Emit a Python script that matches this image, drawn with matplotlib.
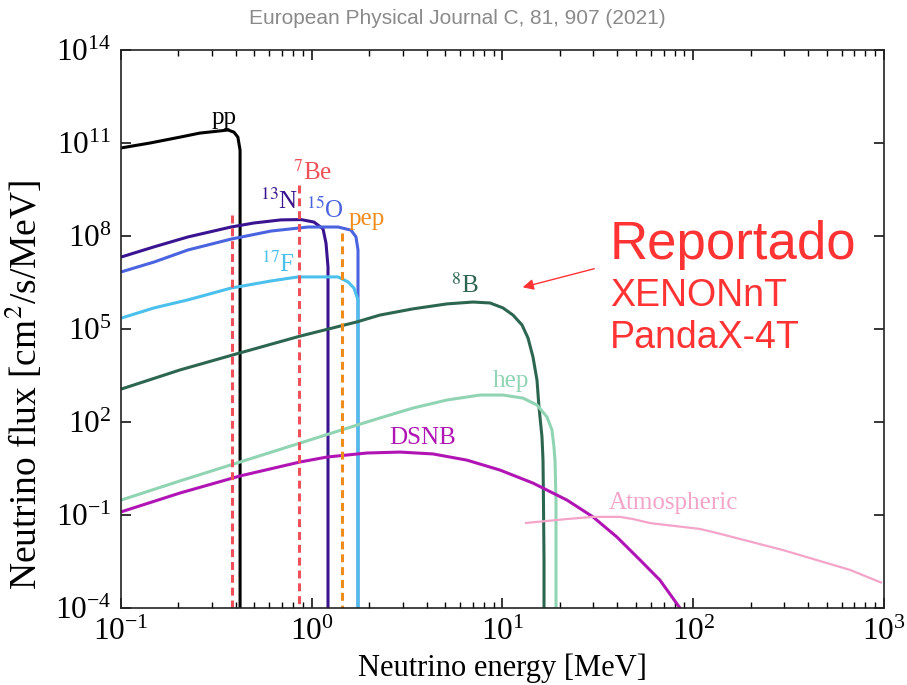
import numpy as np
import matplotlib
matplotlib.use("Agg")
import matplotlib.pyplot as plt
from matplotlib.patches import FancyArrowPatch
from matplotlib.ticker import FixedLocator, LogLocator, NullLocator

plt.rcParams["font.family"] = "serif"
plt.rcParams["font.serif"] = ["Liberation Serif", "DejaVu Serif"]
plt.rcParams["mathtext.fontset"] = "stix"

# neutrino spectra: energy [MeV] and log10 flux [cm^-2 s^-1 MeV^-1]
pp_E = [0.100, 0.142, 0.204, 0.259, 0.330, 0.364, 0.391, 0.410, 0.421, 0.421]
pp_logF = [10.84, 11.00, 11.19, 11.32, 11.39, 11.42, 11.35, 11.19, 10.77, -5]

n13_E = [0.100, 0.149, 0.2245, 0.3774, 0.498, 0.690, 0.878, 1.027, 1.146, 1.188, 1.217, 1.217]
n13_logF = [7.32, 7.65, 7.97, 8.29, 8.42, 8.52, 8.53, 8.45, 8.23, 7.77, 7.00, -5]

o15_E = [0.100, 0.149, 0.2245, 0.3774, 0.6114, 0.956, 1.373, 1.606, 1.706, 1.748, 1.748]
o15_logF = [6.84, 7.16, 7.55, 7.90, 8.16, 8.29, 8.29, 8.19, 7.97, 7.55, -5]

f17_E = [0.100, 0.149, 0.2245, 0.3774, 0.6114, 0.847, 1.373, 1.549, 1.665, 1.748, 1.748]
f17_logF = [5.35, 5.68, 5.94, 6.32, 6.55, 6.68, 6.68, 6.52, 6.32, 5.94, -5]

b8_E = [0.100, 0.204, 0.421, 0.868, 1.727, 2.279, 3.395, 5.12, 7.00, 8.60, 10.06,
        11.35, 12.66, 13.61, 14.45, 15.17, 15.54, 16.11, 16.31, 16.40, 16.51, 16.51]
b8_logF = [3.06, 3.68, 4.23, 4.77, 5.23, 5.45, 5.65, 5.81, 5.87, 5.84, 5.68,
           5.45, 5.13, 4.71, 4.10, 3.35, 2.48, 1.52, 0.77, -0.52, -2.45, -5]

hep_E = [0.100, 0.204, 0.421, 0.868, 1.727, 2.279, 3.395, 5.12, 7.62, 10.06,
         12.81, 15.17, 17.11, 18.18, 18.62, 18.85, 19.08, 19.08]
hep_logF = [-0.52, 0.10, 0.71, 1.32, 1.90, 2.13, 2.45, 2.71, 2.87, 2.87,
            2.77, 2.55, 2.16, 1.74, 1.19, 0.77, -0.52, -5]

dsnb_E = [0.100, 0.204, 0.421, 0.868, 1.202, 1.949, 2.902, 4.32, 6.51, 9.70,
          14.45, 21.8, 29.8, 39.8, 52.6, 66.9, 85.2, 88.4]
dsnb_logF = [-0.90, -0.29, 0.26, 0.71, 0.87, 1.00, 1.03, 0.97, 0.77, 0.45,
             0.03, -0.52, -1.06, -1.71, -2.45, -3.10, -4.00, -4.26]

atm_E = [13.12, 21.8, 29.8, 41.3, 48.3, 59.3, 108.5, 133, 295, 663, 976]
atm_logF = [-1.26, -1.13, -1.06, -1.06, -1.13, -1.26, -1.45, -1.58, -2.13, -2.77, -3.19]

# monoenergetic lines (7Be x2, pep): energy [MeV], log10 flux [cm^-2 s^-1]
line_E = [0.384, 0.862, 1.44]
line_logF = [8.68, 9.65, 8.10]
line_colors = ["#f0505a", "#f0505a", "#f08c1c"]

curves = [
    (pp_E, pp_logF, "black"),
    (n13_E, n13_logF, "#3a1490"),
    (o15_E, o15_logF, "#4a64e0"),
    (f17_E, f17_logF, "#4cc0ec"),
    (b8_E, b8_logF, "#2d6650"),
    (hep_E, hep_logF, "#90d4b4"),
    (dsnb_E, dsnb_logF, "#b014b4"),
    (atm_E, atm_logF, "#f4a4c8"),
]

fig = plt.figure(figsize=(9.07, 6.85), dpi=100)
ax = fig.add_axes([0.1334, 0.1124, 0.8412, 0.8146])

for E, logF, c in curves:
    lw = 1.6 if c == "#f4a4c8" else 2.2
    ax.plot(E, 10.0 ** np.array(logF), color=c, lw=lw,
            solid_joinstyle="round", solid_capstyle="butt")

for E, lf, c in zip(line_E, line_logF, line_colors):
    ax.plot([E, E], [10.0 ** lf, 1e-5], color=c, lw=2.2, ls=(0, (2.6, 1.6)))

ax.set_xscale("log")
ax.set_yscale("log")
ax.set_xlim(0.1, 1e3)
ax.set_ylim(1e-4, 1e14)
ax.yaxis.set_major_locator(FixedLocator([1e-4, 1e-1, 1e2, 1e5, 1e8, 1e11, 1e14]))
ax.yaxis.set_minor_locator(NullLocator())
ax.xaxis.set_minor_locator(LogLocator(base=10, subs=np.arange(2, 10), numticks=20))
ax.tick_params(which="both", direction="in", top=True, right=True, labelsize=22.5)
ax.tick_params(axis="y", pad=7)
ax.tick_params(axis="x", pad=7)
ax.tick_params(which="major", length=7, width=1.1)
ax.tick_params(which="minor", length=4, width=1.0)
for s in ax.spines.values():
    s.set_linewidth(1.2)
    s.set_color("#222222")

ax.set_xlabel("Neutrino energy [MeV]", fontsize=22, labelpad=5)
ax.set_ylabel("Neutrino flux [cm$^2$/s/MeV]", fontsize=27)
ax.yaxis.set_label_coords(-0.100, 0.40)

labels = [
    ("pp", 0.347, 11.81, "black"),
    ("$^{7}$Be", 1.015, 10.06, "#f0505a"),
    ("$^{13}$N", 0.674, 9.13, "#3a1490"),
    ("$^{15}$O", 1.17, 8.84, "#4a64e0"),
    ("pep", 1.95, 8.55, "#f08c1c"),
    ("$^{17}$F", 0.665, 7.10, "#4cc0ec"),
    ("$^{8}$B", 6.36, 6.39, "#2d6650"),
    ("hep", 11.08, 3.32, "#90d4b4"),
    ("DSNB", 3.83, 1.48, "#b014b4"),
    ("Atmospheric", 78.3, -0.61, "#f4a4c8"),
]
for t, x, ly, c in labels:
    ax.text(x, 10.0 ** ly, t, color=c, fontsize=18, ha="center", va="center")

fig.text(457 / 907, 1 - 18 / 685, "European Physical Journal C, 81, 907 (2021)",
         family="Liberation Sans", color="#8a8a8a", fontsize=15, ha="center", va="center")

red = "#ff3333"
fig.text(610 / 907, 1 - 245 / 685, "Reportado", family="Liberation Sans",
         color=red, fontsize=38, ha="left", va="center")
fig.text(610 / 907, 1 - 296 / 685, "XENONnT", family="Liberation Sans",
         color=red, fontsize=27, ha="left", va="center")
fig.text(610 / 907, 1 - 338 / 685, "PandaX-4T", family="Liberation Sans",
         color=red, fontsize=27, ha="left", va="center")
fig.add_artist(FancyArrowPatch(
    (597 / 907, 1 - 268 / 685), (520 / 907, 1 - 288 / 685),
    transform=fig.transFigure, arrowstyle="-|>", mutation_scale=16,
    color=red, lw=1.0))

fig.savefig("out.png", dpi=100)
